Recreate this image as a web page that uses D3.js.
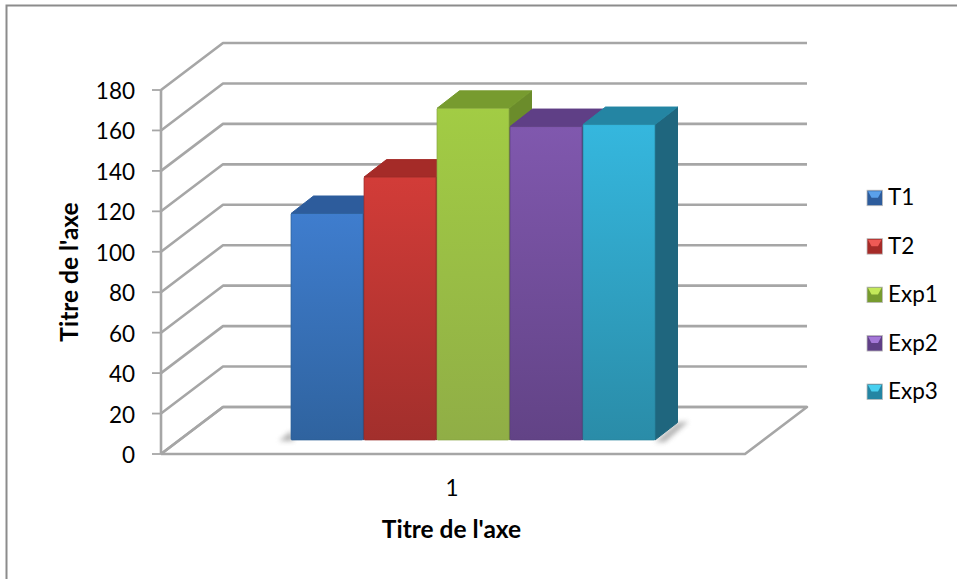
<!DOCTYPE html>
<html>
<head>
<meta charset="utf-8">
<script src="https://cdnjs.cloudflare.com/ajax/libs/d3/7.8.5/d3.min.js"></script>
<style>
html,body{margin:0;padding:0;background:#fff;}
svg{display:block;}
text{font-family:Lato,"Open Sans",sans-serif;fill:#000;}
</style>
</head>
<body>
<svg id="chart" width="957" height="579"></svg>
<script>
const seriesNames = ["T1","T2","Exp1","Exp2","Exp3"];
const seriesValues = [112,130,164,155,156];
const categories = ["1"];
const yTicks = [0,20,40,60,80,100,120,140,160,180];
const yTitle = "Titre de l'axe";
const xTitle = "Titre de l'axe";
const frontColors = [["#3f7dce","#2f639f"],["#d23c38","#a22f2c"],["#a2cc44","#90ae46"],["#8058ae","#624386"],["#35b7de","#2a8ca8"]];
const topColors = ["#2d5c9c","#a52b28","#779b2f","#5f3f86","#2485a3"];
const sideColors = ["#274f86","#8a2422","#6b8c2b","#513672","#1f667e"];
const legendGlow = ["#5aa0ea","#ee5a55","#c4e85a","#a578d8","#48d0f0"];

const svg = d3.select("#chart");
const defs = svg.append("defs");

const y = d3.scaleLinear().domain([0,180]).range([454,90]);
const x = d3.scaleLinear().domain([0,1]).range([161,745]);
const band = d3.scaleBand().domain(seriesNames).range([291,656]);

// oblique projection offsets for the chart walls and for the bars
const wall = {dx:62, dy:-47};
const bar = {dx:22.5, dy:-17.5, baseLift:14};

// open frame: only the top and left edges are ruled
svg.append("path").attr("d",d3.line()([[6.5,579],[6.5,5.5],[957,5.5]]))
  .attr("fill","none").attr("stroke","#8c8c8c").attr("stroke-width",2);

const grid = "#a6a6a6";
const line = d3.line();

// floor
svg.append("path")
  .attr("d",line([[x(0),y(0)],[x(0)+wall.dx,y(0)+wall.dy],[x(1)+wall.dx,y(0)+wall.dy],[x(1),y(0)],[x(0),y(0)]]))
  .attr("fill","#fff").attr("stroke",grid).attr("stroke-width",2.6).attr("stroke-linejoin","round");

// gridlines across the side wall and back wall, with value ticks
yTicks.forEach(t=>{
  svg.append("path")
    .attr("d",line([[x(0),y(t)],[x(0)+wall.dx,y(t)+wall.dy],[x(1)+wall.dx,y(t)+wall.dy]]))
    .attr("fill","none").attr("stroke",grid).attr("stroke-width",2.6).attr("stroke-linejoin","round");
  svg.append("line").attr("x1",x(0)-9).attr("x2",x(0)).attr("y1",y(t)).attr("y2",y(t))
    .attr("stroke",grid).attr("stroke-width",1.8);
  svg.append("text").attr("x",135).attr("y",y(t)+9).attr("text-anchor","end")
    .attr("font-size",22.5).text(t);
});
svg.append("line").attr("x1",x(0)).attr("x2",x(0)).attr("y1",y(0)).attr("y2",y(180))
  .attr("stroke",grid).attr("stroke-width",2.6);

// soft contact shadows left and right of the bar group
defs.append("filter").attr("id","soft").attr("x","-50%").attr("y","-50%").attr("width","200%").attr("height","200%")
  .append("feGaussianBlur").attr("stdDeviation",2.5);
const x0 = band(seriesNames[0]), x1 = band(seriesNames[4])+band.bandwidth()-1;
const base = y(0)-bar.baseLift;
svg.append("path")
  .attr("d",line([[x0-12,base+1],[x0,base-9],[x0+3,base+1]])+"Z")
  .attr("fill","#888").attr("opacity",0.65).attr("filter","url(#soft)");
svg.append("path")
  .attr("d",line([[x1,base+2],[x1+bar.dx,base+bar.dy],[x1+bar.dx+11,base+bar.dy-1],[x1+10,base+2]])+"Z")
  .attr("fill","#888").attr("opacity",0.65).attr("filter","url(#soft)");

// vertical shading for front faces
seriesNames.forEach((n,i)=>{
  const g = defs.append("linearGradient").attr("id","front"+i).attr("x1",0).attr("x2",0).attr("y1",0).attr("y2",1);
  g.append("stop").attr("offset",0).attr("stop-color",frontColors[i][0]);
  g.append("stop").attr("offset",1).attr("stop-color",frontColors[i][1]);
});

// bars, drawn left to right so each front face covers the neighbour's side
seriesNames.forEach((n,i)=>{
  const v = seriesValues[i];
  const l = band(n), w = band.bandwidth()-1, r = l+w;
  const top = y(v)-bar.baseLift;
  const g = svg.append("g").attr("stroke-linejoin","round");
  g.append("path").attr("fill",sideColors[i]).attr("stroke",sideColors[i]).attr("stroke-width",1)
    .attr("d",line([[r,top],[r+bar.dx,top+bar.dy],[r+bar.dx,base+bar.dy],[r,base]])+"Z");
  g.append("path").attr("fill",topColors[i]).attr("stroke",topColors[i]).attr("stroke-width",1)
    .attr("d",line([[l,top],[l+bar.dx,top+bar.dy],[r+bar.dx,top+bar.dy],[r,top]])+"Z");
  g.append("rect").attr("x",l).attr("y",top).attr("width",w).attr("height",base-top).attr("rx",1)
    .attr("fill",`url(#front${i})`).attr("stroke",d3.color(frontColors[i][1]).darker(0.15)).attr("stroke-width",0.7);
});

// category label and axis titles
svg.append("text").attr("x",452).attr("y",496).attr("text-anchor","middle").attr("font-size",22.5).text(categories[0]);
svg.append("text").attr("x",451.5).attr("y",538).attr("text-anchor","middle").attr("font-size",24.5).attr("font-weight",700).text(xTitle);
svg.append("text").attr("transform","translate(78,272) rotate(-90)").attr("text-anchor","middle")
  .attr("font-size",24.5).attr("font-weight",700).text(yTitle);

// legend
const legendY = d3.scalePoint().domain(seriesNames).range([197.7,391.5]);
seriesNames.forEach((n,i)=>{
  const ly = legendY(n);
  const g = svg.append("g");
  g.append("rect").attr("x",867).attr("y",ly-7.5).attr("width",15.5).attr("height",15.5)
    .attr("fill",topColors[i]).attr("stroke","#bdbdbd").attr("stroke-width",0.8);
  g.append("path").attr("fill",legendGlow[i])
    .attr("d",line([[868,ly-6.5],[881.5,ly-6.5],[878,ly],[871.5,ly]])+"Z");
  g.append("text").attr("x",888).attr("y",ly+7.5).attr("font-size",22.5).text(n);
});
</script>
</body>
</html>
